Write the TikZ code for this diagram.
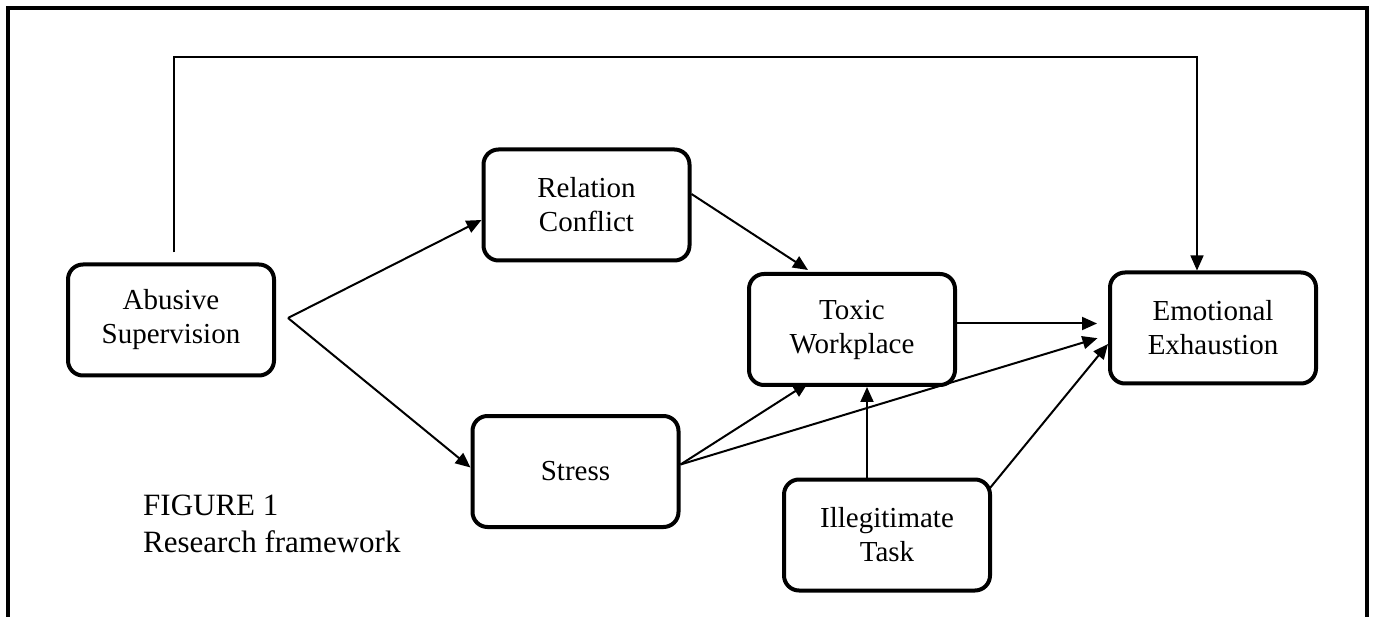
\documentclass[tikz,border=0pt]{standalone}
\usepackage{fontspec}
\setmainfont{Liberation Serif}
\usetikzlibrary{arrows.meta,calc}
\begin{document}
\begin{tikzpicture}[x=1pt,y=-1pt,
  box/.style={draw,line width=4pt,rounded corners=15pt,minimum width=206pt,minimum height=111pt,
    inner sep=0pt,align=center,font=\fontsize{29}{34}\selectfont},
  arr/.style={line width=2pt,-{Triangle[length=15pt,width=13pt]}},
  thin/.style={line width=1.5pt}]
\useasboundingbox (0,0) rectangle (1376,617);
\draw[line width=4pt] (8,619) -- (8,8) -- (1367,8) -- (1367,619);
\node[box] (abs) at (171,320) {Abusive\\Supervision};
\node[box] (rc) at (586.5,205) {Relation\\Conflict};
\node[box] (tox) at (852,329.5) {Toxic\\Workplace};
\node[box] (st) at (575.5,471.5) {Stress};
\node[box] (ee) at (1213,328) {Emotional\\Exhaustion};
\node[box] (ill) at (887,535) {Illegitimate\\Task};
\node[anchor=north west,align=left,inner sep=0pt,font=\fontsize{31}{37}\selectfont] (cap) at (143,495) {FIGURE 1\\Research framework};
\coordinate (fork) at (288,318);
\coordinate (topy) at (0,57);
% top loop
\draw[thin,-{Triangle[length=15pt,width=13pt]}] ([xshift=3pt,yshift=10pt]abs.north) -- ([xshift=3pt]abs.north |- topy) -| ([xshift=-16pt]ee.north);
% fork
\draw[arr] (fork) -- ([yshift=-15pt]rc.west);
\draw[arr] (fork) -- ([yshift=4pt]st.west);
\draw[arr] ([yshift=11pt]rc.east) -- ([xshift=-44pt,yshift=2pt]tox.north);
\draw[arr] ([yshift=7pt]st.east) -- ([xshift=-44pt,yshift=4pt]tox.south);
\draw[arr,shorten >=11pt] ([yshift=7pt]st.east) -- ([yshift=-7pt]ee.west);
\draw[arr,shorten >=11pt] ([yshift=6pt]tox.east) -- ([yshift=6pt]tox.east -| ee.west);
\draw[arr] ([xshift=-20pt]ill.north) -- ([xshift=-20pt]ill.north |- tox.south);
\draw[arr] ([xshift=-2pt,yshift=47pt]ill.east) -- ([yshift=-16pt]ee.west);
\end{tikzpicture}
\end{document}
